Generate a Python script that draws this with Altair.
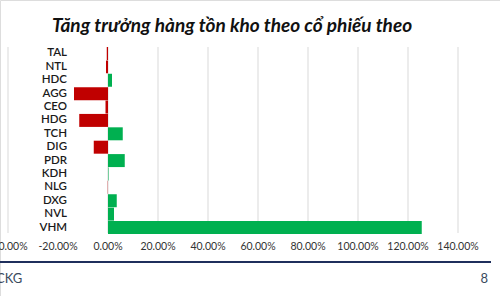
import altair as alt
import pandas as pd

tickers = ["TAL", "NTL", "HDC", "AGG", "CEO", "HDG", "TCH", "DIG", "PDR", "KDH", "NLG", "DXG", "NVL", "VHM"]
growth = [-0.005, -0.008, 0.016, -0.136, -0.010, -0.115, 0.059, -0.057, 0.067, 0.002, -0.001, 0.035, 0.024, 1.255]
tick_values = [-0.4, -0.2, 0.0, 0.2, 0.4, 0.6, 0.8, 1.0, 1.2, 1.4]
grid_values = [-0.4, 0.0, 0.2, 0.4, 0.6, 0.8, 1.0, 1.2, 1.4]
title_text = "Tăng trưởng hàng tồn kho theo cổ phiếu theo"
footer_left = "CKG"
footer_right = "8"

df = pd.DataFrame({"ticker": tickers, "growth": growth})
df["sign"] = ["neg" if v < 0 else "pos" for v in growth]
ticks = pd.DataFrame({"v": tick_values})
grids = pd.DataFrame({"v": grid_values})

xscale = alt.Scale(domain=[-0.4, 1.4], range=[8, 458], nice=False, zero=False)
yscale = alt.Scale(domain=tickers, range=[47, 234], paddingInner=0.03, paddingOuter=0.0)

grid = alt.Chart(grids).mark_rule(color="#D9D9D9", strokeWidth=1).encode(
    x=alt.X("v:Q", scale=xscale, axis=None),
    y=alt.value(47), y2=alt.value(233),
)

bars = alt.Chart(df).mark_bar().encode(
    x=alt.X("growth:Q", scale=xscale, axis=None),
    x2=alt.datum(0),
    y=alt.Y("ticker:N", scale=yscale, axis=None, sort=tickers),
    color=alt.Color("sign:N", scale=alt.Scale(domain=["neg", "pos"], range=["#C00000", "#00B050"]), legend=None),
)

ylabels = alt.Chart(df).mark_text(align="right", baseline="middle", font="Lato", fontSize=11.5,
                                   fontWeight=600, color="#1a1a1a").encode(
    x=alt.value(67),
    y=alt.Y("ticker:N", scale=yscale, axis=None, sort=tickers),
    text="ticker:N",
)

xlabels = alt.Chart(ticks).mark_text(align="center", baseline="middle", font="Lato", fontSize=10.5,
                                     color="#333333").encode(
    x=alt.X("v:Q", scale=xscale, axis=None),
    y=alt.value(247),
    text=alt.Text("lab:N"),
).transform_calculate(lab="replace(format(datum.v, '.2%'), '\u2212', '-')")

title = alt.Chart(pd.DataFrame({"t": [title_text]})).mark_text(
    align="center", baseline="middle", font="Lato", fontSize=19, fontWeight="bold",
    fontStyle="italic", color="#111111").encode(
    x=alt.value(232), y=alt.value(26), text="t:N")

line = alt.Chart(pd.DataFrame({"a": [0]})).mark_rule(color="#1F2F5C", strokeWidth=2).encode(
    x=alt.value(0), x2=alt.value(491), y=alt.value(262))

fl = alt.Chart(pd.DataFrame({"t": [footer_left]})).mark_text(
    align="left", baseline="middle", font="Lato", fontSize=13, color="#3A4A5E").encode(
    x=alt.value(-4), y=alt.value(279), text="t:N")

fr = alt.Chart(pd.DataFrame({"t": [footer_right]})).mark_text(
    align="right", baseline="middle", font="Lato", fontSize=13, color="#3A4A5E").encode(
    x=alt.value(488), y=alt.value(279), text="t:N")

chart = alt.layer(grid, bars, ylabels, xlabels, title, line, fl, fr).properties(
    width=500, height=296,
    autosize=alt.AutoSizeParams(type="none"),
    padding=0,
).configure_view(stroke=None).configure(background="white")

chart.save("out.html", embed_options={"renderer": "svg", "actions": False})
